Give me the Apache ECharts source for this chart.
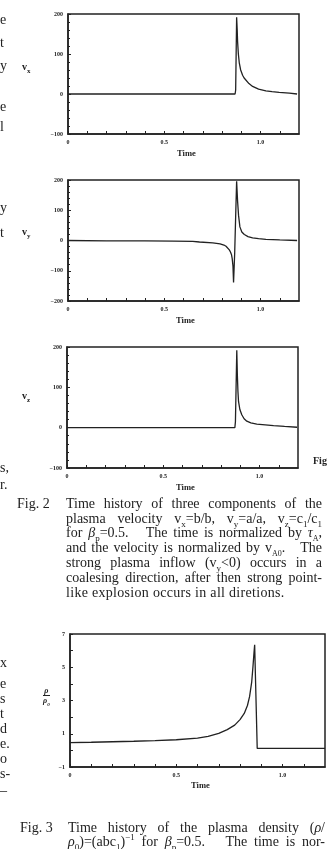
<!DOCTYPE html>
<html>
<head>
<meta charset="utf-8">
<script src="https://cdn.jsdelivr.net/npm/echarts@6/dist/echarts.min.js"></script>
<style>
body { margin: 0; background: #fff; }
#page { position: relative; width: 328px; height: 849px; overflow: hidden; background: #fff;
  font-family: "Liberation Serif", "DejaVu Serif", serif; color: #222; }
#chart { position: absolute; left: 0; top: 0; width: 328px; height: 849px; }
.t { position: absolute; font-size: 14px; line-height: 15px; white-space: nowrap; }
.cap { text-align: justify; text-align-last: justify; white-space: normal; }
.t sub, .t sup { line-height: 0; }
.ax { position: absolute; font-weight: bold; font-size: 10px; line-height: 10px; white-space: nowrap; }
.ax sub { font-size: 7px; }
.tm { position: absolute; font-weight: bold; font-size: 8.5px; line-height: 9px; }
.frac { position: absolute; font-weight: bold; font-size: 8px; line-height: 8px; text-align: center; font-style: italic; }
.frac span { display: block; }
.frac .den { border-top: 1px solid #222; padding-top: 1px; }
</style>
</head>
<body>
<div id="page">
  <div id="chart"></div>

  <!-- fragments of the neighbouring column -->
  <div class="t" style="left:0;top:12px">e</div>
  <div class="t" style="left:0;top:35px">t</div>
  <div class="t" style="left:0;top:58px">y</div>
  <div class="t" style="left:0;top:99px">e</div>
  <div class="t" style="left:0;top:119px">l</div>
  <div class="t" style="left:0;top:200px">y</div>
  <div class="t" style="left:0;top:225px">t</div>
  <div class="t" style="left:0;top:460px">s,</div>
  <div class="t" style="left:0;top:477px">r.</div>
  <div class="t" style="left:0;top:655px">x</div>
  <div class="t" style="left:0;top:676px">e</div>
  <div class="t" style="left:0;top:691px">s</div>
  <div class="t" style="left:0;top:706px">t</div>
  <div class="t" style="left:0;top:721px">d</div>
  <div class="t" style="left:0;top:736px">e.</div>
  <div class="t" style="left:0;top:751px">o</div>
  <div class="t" style="left:0;top:766px">s-</div>
  <div class="t" style="left:0;top:778px">_</div>

  <!-- axis names -->
  <div class="ax" style="left:22px;top:62px">v<sub>x</sub></div>
  <div class="ax" style="left:22px;top:227px">v<sub>y</sub></div>
  <div class="ax" style="left:22px;top:391px">v<sub>z</sub></div>
  <div class="frac" style="left:43px;top:687px"><span>ρ</span><span class="den">ρ<sub style="font-size:5px">0</sub></span></div>
  <div class="tm" style="left:177px;top:149px">Time</div>
  <div class="tm" style="left:176px;top:316px">Time</div>
  <div class="tm" style="left:176px;top:483px">Time</div>
  <div class="tm" style="left:191px;top:781px">Time</div>
  <div class="tm" style="left:313px;top:456px;font-size:10px">Fig</div>

  <!-- caption Fig. 2 -->
  <div class="t" style="left:17px;top:496px">Fig. 2</div>
  <div class="t cap" style="left:66px;top:496px;width:256px">Time history of three components of the</div>
  <div class="t cap" style="left:66px;top:511px;width:256px">plasma velocity v<sub style="font-size:9px">x</sub>=b/b, v<sub style="font-size:9px">y</sub>=a/a, v<sub style="font-size:9px">z</sub>=c<sub style="font-size:9px">1</sub>/c<sub style="font-size:9px">1</sub></div>
  <div class="t cap" style="left:66px;top:525px;width:256px">for <i>β</i><sub style="font-size:9px">p</sub>=0.5. &nbsp; The time is normalized by <i>τ</i><sub style="font-size:8px">A</sub>,</div>
  <div class="t cap" style="left:66px;top:540px;width:256px">and the velocity is normalized by v<sub style="font-size:8px">A0</sub>. &nbsp; The</div>
  <div class="t cap" style="left:66px;top:555px;width:256px">strong plasma inflow (v<sub style="font-size:9px">y</sub>&lt;0) occurs in a</div>
  <div class="t cap" style="left:66px;top:570px;width:256px">coalesing direction, after then strong point-</div>
  <div class="t" style="left:66px;top:585px;letter-spacing:0.3px">like explosion occurs in all diretions.</div>

  <!-- caption Fig. 3 -->
  <div class="t" style="left:20px;top:820px">Fig. 3</div>
  <div class="t cap" style="left:68px;top:820px;width:257px">Time history of the plasma density (<i>ρ</i>/</div>
  <div class="t cap" style="left:68px;top:834px;width:257px"><i>ρ</i><sub style="font-size:9px">0</sub>)=(abc<sub style="font-size:9px">1</sub>)<sup style="font-size:9px">−1</sup> for <i>β</i><sub style="font-size:9px">p</sub>=0.5. &nbsp; The time is nor-</div>
</div>

<script>
// v_x = b'/b
const timeVx = [0, 0.2, 0.4, 0.6, 0.8, 0.868, 0.871, 0.876, 0.879, 0.881, 0.885, 0.89, 0.897, 0.907, 0.915, 0.924, 0.94, 0.959, 0.99, 1.028, 1.06, 1.097, 1.15, 1.19];
const valVx  = [0, 0, 0, 0, 0, 0, 10, 192, 160, 131, 100, 77, 60, 47, 40, 35, 26, 19, 12, 8, 6, 4, 2, 0];

// v_y = a'/a
const timeVy = [0, 0.2, 0.4, 0.55, 0.648, 0.683, 0.752, 0.79, 0.81, 0.821, 0.831, 0.838, 0.844, 0.849, 0.853, 0.857, 0.86, 0.866, 0.871, 0.876, 0.881, 0.886, 0.893, 0.903, 0.916, 0.935, 0.959, 0.99, 1.028, 1.1, 1.19];
const valVy  = [0, -1, -1, -2, -3, -5, -8, -11, -15, -19, -25, -31, -38, -46, -60, -85, -139, -40, 80, 196, 130, 83, 45, 28, 20, 13, 9, 6, 4, 2, 0];

// v_z = c1'/c1
const timeVz = [0, 0.2, 0.4, 0.6, 0.8, 0.872, 0.875, 0.882, 0.885, 0.888, 0.891, 0.898, 0.908, 0.92, 0.934, 0.955, 0.986, 1.03, 1.073, 1.13, 1.195];
const valVz  = [0, 0, 0, 0, 0, 0, 15, 192, 130, 90, 65, 45, 32, 22, 16, 12, 9, 7, 5, 3, 1];

// rho / rho0
const timeRho = [0, 0.1, 0.2, 0.3, 0.4, 0.5, 0.6, 0.65, 0.7, 0.74, 0.775, 0.8, 0.82, 0.835, 0.845, 0.855, 0.861, 0.866, 0.869, 0.881, 1.2];
const valRho  = [0.47, 0.49, 0.52, 0.55, 0.59, 0.64, 0.74, 0.84, 1.02, 1.25, 1.52, 1.85, 2.22, 2.7, 3.23, 4.1, 5.04, 5.9, 6.35, 0.12, 0.12];

const xLabels = [0, 0.5, 1.0];

const pairs = (t, v) => t.map((x, i) => [x, v[i]]);

const ink = '#222';
const labelFont = { color: ink, fontSize: 6, fontWeight: 'bold', fontFamily: 'Liberation Serif' };

function xAxis(i) {
  return {
    gridIndex: i, type: 'value', min: 0, max: 1.2, interval: 0.1,
    axisLine: { show: true, onZero: false, lineStyle: { color: ink, width: 1.5 } },
    axisTick: { inside: true, length: 3, lineStyle: { color: ink, width: 1 } },
    splitLine: { show: false },
    axisLabel: Object.assign({}, labelFont, {
      margin: 5, showMaxLabel: false,
      formatter: v => {
        const k = Math.round(v * 10);
        if (!xLabels.some(x => Math.round(x * 10) === k)) return '';
        return k === 0 ? '0' : v.toFixed(1);
      }
    })
  };
}

function yAxis(i, min, max, interval, minor, fmt) {
  return {
    gridIndex: i, type: 'value', min: min, max: max, interval: interval,
    axisLine: { show: true, onZero: false, lineStyle: { color: ink, width: 1.5 } },
    axisTick: { inside: true, length: 3, lineStyle: { color: ink, width: 1 } },
    minorTick: { show: minor > 0, splitNumber: minor || 1, length: 2, lineStyle: { color: ink, width: 1 } },
    splitLine: { show: false },
    axisLabel: Object.assign({}, labelFont, { margin: 5, formatter: fmt })
  };
}

const signed = v => (v < 0 ? '\u2212' + (-v) : String(v));

const chart = echarts.init(document.getElementById('chart'));
const gridBox = (l, t, w, h) => ({ left: l, top: t, width: w, height: h, show: true,
  borderColor: ink, borderWidth: 1.5, backgroundColor: 'transparent' });

const line = (i, data) => ({
  type: 'line', xAxisIndex: i, yAxisIndex: i, data: data,
  showSymbol: false, smooth: false,
  lineStyle: { color: ink, width: 1.3 }
});

chart.setOption({
  animation: false,
  backgroundColor: 'transparent',
  grid: [
    gridBox(68, 14, 231, 120),
    gridBox(68, 180, 231, 121),
    gridBox(67, 347, 231, 121),
    gridBox(70, 634, 255, 133)
  ],
  xAxis: [xAxis(0), xAxis(1), xAxis(2), xAxis(3)],
  yAxis: [
    yAxis(0, -100, 200, 100, 5, signed),
    yAxis(1, -200, 200, 100, 5, signed),
    yAxis(2, -100, 200, 100, 5, signed),
    yAxis(3, -1, 7, 1, 0, v => (Math.abs(v % 2) === 1 ? signed(v) : ''))
  ],
  series: [
    line(0, pairs(timeVx, valVx)),
    line(1, pairs(timeVy, valVy)),
    line(2, pairs(timeVz, valVz)),
    line(3, pairs(timeRho, valRho))
  ]
});
</script>
</body>
</html>
